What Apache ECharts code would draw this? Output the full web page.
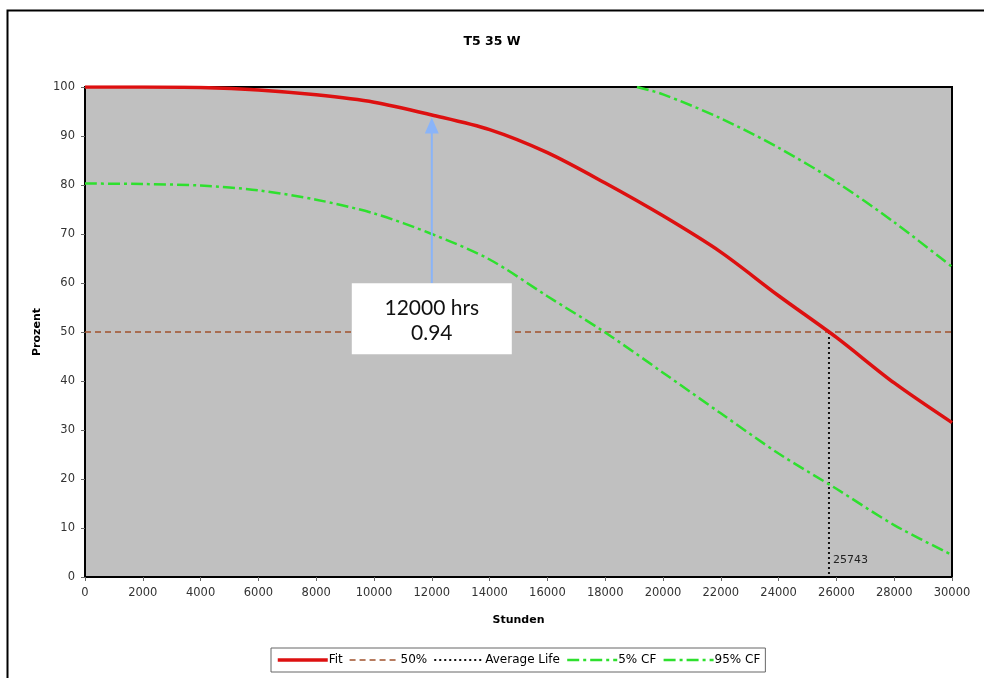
<!DOCTYPE html>
<html>
<head>
<meta charset="utf-8">
<script src="https://cdn.jsdelivr.net/npm/echarts@6/dist/echarts.min.js"></script>
<style>html,body{margin:0;padding:0;background:#fff;}#c{width:984px;height:678px;}</style>
</head>
<body>
<div id="c"></div>
<script>
const hours = [0,2000,4000,6000,8000,10000,12000,14000,16000,18000,20000,22000,24000,26000,28000,30000];
const fit   = [100,100,99.9,99.4,98.4,96.9,94.3,91.3,86.6,80.4,73.7,66.3,57.4,48.9,39.6,31.5];
const cf5   = [80.3,80.2,79.9,78.9,77.0,74.2,70.0,64.8,57.3,49.9,41.7,33.4,25.2,18.0,10.6,4.5];
const cf95Hours = [19100,20000,22000,24000,26000,28000,30000];
const cf95      = [100,98.5,93.6,87.6,80.6,72.4,63.3];
const halfLevel = 50;
const averageLife = 25743;
const annotHours = 12000;
const annotValue = 0.94;
const seriesNames = ['Fit','50%','Average Life','5% CF','95% CF'];

const FONT = 'DejaVu Sans';
const zip = (xs, ys) => xs.map((x, i) => [x, ys[i]]);

const chart = echarts.init(document.getElementById('c'), null, {renderer: 'canvas'});
const option = {
  animation: false,
  backgroundColor: '#fff',
  title: {
    text: 'T5 35 W', left: 'center', top: 30,
    textStyle: {fontFamily: FONT, fontSize: 12.5, fontWeight: 'bold', color: '#000'}
  },
  grid: {left: 85, top: 87, width: 867, height: 490, show: true,
         backgroundColor: '#c0c0c0', borderColor: '#000', borderWidth: 2},
  legend: {
    data: seriesNames, left: 271, top: 648,
    itemWidth: 50, itemHeight: 10, itemGap: 6,
    padding: [6, 5], borderColor: '#666', borderWidth: 1,
    itemStyle: {opacity: 0},
    lineStyle: {width: 'inherit'},
    textStyle: {fontFamily: FONT, fontSize: 12, color: '#000', padding: [0,0,0,-4]}
  },
  xAxis: {
    type: 'value', min: 0, max: 30000, interval: 2000,
    name: 'Stunden', nameLocation: 'middle', nameGap: 38,
    nameTextStyle: {fontFamily: FONT, fontSize: 11, fontWeight: 'bold', color: '#000'},
    axisLine: {show: true, lineStyle: {color: '#000', width: 1}},
    axisTick: {show: true, length: 4, lineStyle: {color: '#666'}},
    axisLabel: {fontFamily: FONT, fontSize: 11.5, color: '#333', margin: 10, formatter: v => String(v)},
    splitLine: {show: false}
  },
  yAxis: {
    type: 'value', min: 0, max: 100, interval: 10,
    name: 'Prozent', nameLocation: 'middle', nameGap: 42,
    nameTextStyle: {fontFamily: FONT, fontSize: 11, fontWeight: 'bold', color: '#000'},
    axisLine: {show: true, lineStyle: {color: '#000', width: 1}},
    axisTick: {show: true, length: 4, lineStyle: {color: '#666'}},
    axisLabel: {fontFamily: FONT, fontSize: 11.5, color: '#333', margin: 10},
    splitLine: {show: false}
  },
  series: [
    {
      name: 'Fit', type: 'line', data: zip(hours, fit), smooth: 0.3, symbol: 'none', z: 5,
      lineStyle: {color: '#dd1010', width: 3.5}, itemStyle: {color: '#dd1010'}
    },
    {
      name: '50%', type: 'line', data: [[0, halfLevel], [30000, halfLevel]], symbol: 'none', z: 3,
      lineStyle: {color: '#a0522d', width: 1.5, type: [6, 4]}, itemStyle: {color: '#a0522d'}
    },
    {
      name: 'Average Life', type: 'line', data: [[averageLife, halfLevel], [averageLife, 0]], symbol: 'none', z: 3,
      lineStyle: {color: '#111', width: 2, type: [2, 3]}, itemStyle: {color: '#111'}
    },
    {
      name: '5% CF', type: 'line', data: zip(hours, cf5), smooth: 0.3, symbol: 'none', z: 4,
      lineStyle: {color: '#2ee02e', width: 2.5, type: [12, 4, 3, 4]}, itemStyle: {color: '#2ee02e'}
    },
    {
      name: '95% CF', type: 'line', data: zip(cf95Hours, cf95), smooth: 0.3, symbol: 'none', z: 4,
      lineStyle: {color: '#2ee02e', width: 2.5, type: [12, 4, 3, 4]}, itemStyle: {color: '#2ee02e'}
    }
  ]
};
chart.setOption(option);

const boxC = chart.convertToPixel({gridIndex: 0}, [annotHours, 52.7]);
const tip = chart.convertToPixel({gridIndex: 0}, [annotHours, annotValue * 100]);
const lblP = chart.convertToPixel({gridIndex: 0}, [averageLife, 3.4]);
const boxTop = boxC[1] - 35.5;
chart.setOption({
  graphic: [
    {type: 'rect', left: 5, top: 8, shape: {x: 0, y: 0, width: 1000, height: 700},
     style: {fill: 'none', stroke: '#000', lineWidth: 2}, silent: true},
    {type: 'line', shape: {x1: tip[0], y1: boxTop, x2: tip[0], y2: tip[1] + 14},
     style: {stroke: '#8ab4f8', lineWidth: 2}, z: 99},
    {type: 'polygon', shape: {points: [[tip[0], tip[1] + 1], [tip[0] - 7, tip[1] + 17], [tip[0] + 7, tip[1] + 17]]},
     style: {fill: '#8ab4f8'}, z: 99},
    {type: 'rect', shape: {x: boxC[0] - 80, y: boxTop, width: 160, height: 71},
     style: {fill: '#fff'}, z: 100},
    {type: 'text', x: boxC[0], y: boxC[1] - 11, z: 101,
     style: {text: annotHours + ' hrs', fontFamily: 'Lato', fontSize: 21, fill: '#111',
             align: 'center', verticalAlign: 'middle'}},
    {type: 'text', x: boxC[0], y: boxC[1] + 14, z: 101,
     style: {text: String(annotValue), fontFamily: 'Lato', fontSize: 21, fill: '#111',
             align: 'center', verticalAlign: 'middle'}},
    {type: 'text', x: lblP[0] + 4, y: lblP[1], z: 101,
     style: {text: String(averageLife), fontFamily: FONT, fontSize: 11, fill: '#222',
             align: 'left', verticalAlign: 'middle'}}
  ]
});
</script>
</body>
</html>
